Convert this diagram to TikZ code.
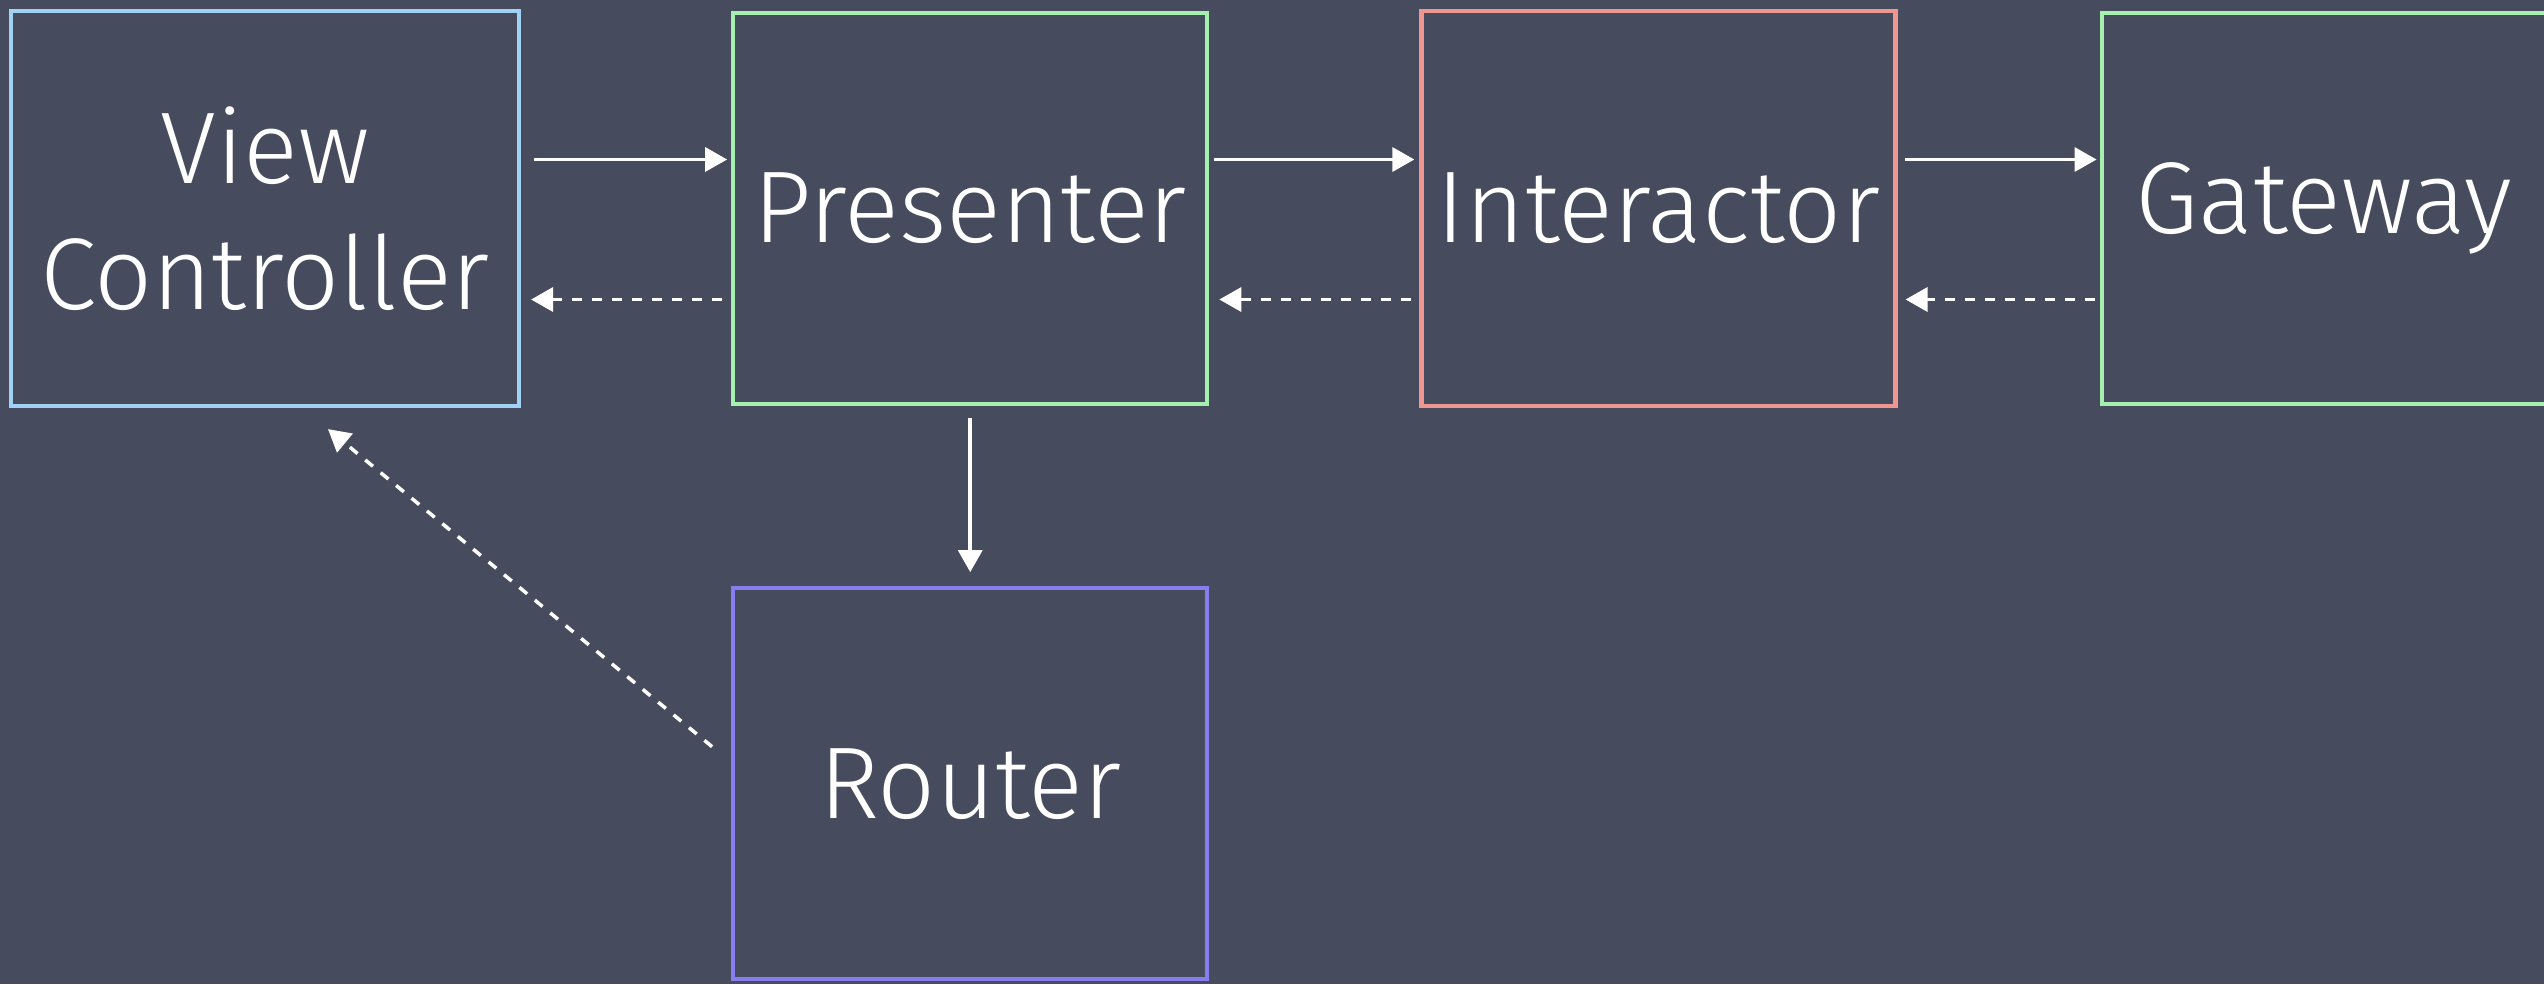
\documentclass[tikz,border=0pt]{standalone}
\usepackage{fontspec}
\setmainfont{Fira Sans Light}
\usetikzlibrary{arrows.meta, positioning}
\definecolor{bgcol}{RGB}{71,75,94}
\definecolor{vcblue}{RGB}{160,210,245}
\definecolor{prgreen}{RGB}{165,240,175}
\definecolor{insalmon}{RGB}{240,150,145}
\definecolor{ropurple}{RGB}{135,125,240}
\tikzset{
  box/.style={rectangle, draw=#1, line width=1.2pt, minimum width=4.74cm, minimum height=3.91cm, align=center, text=white, font=\fontsize{29}{36}\selectfont, inner sep=0pt},
  arrow/.style={draw=white, line width=1pt, -{Triangle[length=0.22cm, width=0.24cm]}},
  backarrow/.style={arrow, dash pattern=on 0.1cm off 0.1cm}
}
\begin{document}
\begin{tikzpicture}[node distance=2.1cm and 2.1cm]

% Background
\fill[bgcol] (0,0) rectangle (25.44,-9.84);
\useasboundingbox (0,0) rectangle (25.44,-9.84);

% Top row
\node[box=vcblue, minimum width=5.08cm, minimum height=3.95cm] (view) at (2.65,-2.085) {View\\Controller};
\node[box=prgreen, right=2.1cm of view] (presenter) {Presenter};
\node[box=insalmon, right=of presenter, minimum height=3.95cm] (interactor) {Interactor};
\node[box=prgreen, right=2.02cm of interactor, minimum width=4.44cm] (gateway) {Gateway};

% Router
\node[box=ropurple, below=1.8cm of presenter] (router) {Router};

% Forward arrows
\draw[arrow] ([xshift=0.13cm, yshift=0.49cm]view.east) -- ([xshift=-0.04cm, yshift=0.49cm]presenter.west);
\draw[arrow] ([xshift=0.05cm, yshift=0.49cm]presenter.east) -- ([xshift=-0.05cm, yshift=0.49cm]interactor.west);
\draw[arrow] ([xshift=0.07cm, yshift=0.49cm]interactor.east) -- ([xshift=-0.03cm, yshift=0.49cm]gateway.west);
\draw[arrow] ([yshift=-0.12cm]presenter.south) -- ([yshift=0.14cm]router.north);

% Back arrows
\draw[backarrow] ([xshift=-0.09cm, yshift=-0.91cm]presenter.west) -- ([xshift=0.1cm, yshift=-0.91cm]view.east);
\draw[backarrow] ([xshift=-0.08cm, yshift=-0.91cm]interactor.west) -- ([xshift=0.1cm, yshift=-0.91cm]presenter.east);
\draw[backarrow] ([xshift=-0.05cm, yshift=-0.91cm]gateway.west) -- ([xshift=0.08cm, yshift=-0.91cm]interactor.east);
\draw[backarrow] ([xshift=-0.19cm, yshift=0.37cm]router.west) -- ([xshift=0.63cm, yshift=-0.21cm]view.south);

\end{tikzpicture}
\end{document}
